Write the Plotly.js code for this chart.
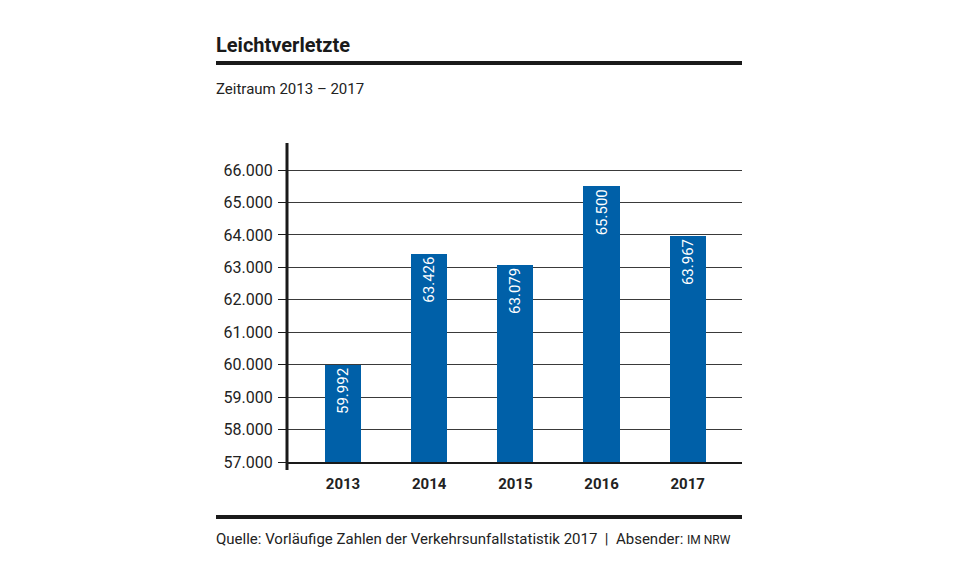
<!DOCTYPE html>
<html>
<head>
<meta charset="utf-8">
<script src="https://cdn.plot.ly/plotly-3.0.1.min.js"></script>
<style>html,body{margin:0;padding:0;background:#fff;}#chart{width:961px;height:581px;}</style>
</head>
<body>
<div id="chart"></div>
<script>
const years = ['2013', '2014', '2015', '2016', '2017'];
const injured = [59992, 63426, 63079, 65500, 63967];
const yTicks = [57000, 58000, 59000, 60000, 61000, 62000, 63000, 64000, 65000, 66000];
const titleText = 'Leichtverletzte';
const subtitleText = 'Zeitraum 2013 – 2017';
const sourceText = 'Quelle: Vorläufige Zahlen der Verkehrsunfallstatistik 2017  |  Absender: ';
const senderText = 'IM NRW';

const FONT = 'Roboto, "Liberation Sans", sans-serif';
const plotH = 319, plotW = 455, L = 287, T = 143;
const px = x => (x - L) / plotW;
const py = y => (T + plotH - y) / plotH;

const trace = {
  type: 'bar',
  x: years,
  y: injured,
  width: 0.42,
  marker: {color: '#0060a8', line: {width: 0}},
  texttemplate: '%{y:,d}',
  textposition: 'inside',
  insidetextanchor: 'end',
  textangle: -90,
  textfont: {family: FONT, size: 15, color: '#ffffff'},
  cliponaxis: false,
  hoverinfo: 'skip'
};

const layout = {
  width: 961, height: 581,
  margin: {l: L, r: 961 - 742, t: T, b: 581 - (T + plotH), pad: 0},
  paper_bgcolor: '#ffffff', plot_bgcolor: '#ffffff',
  separators: ',.',
  showlegend: false,
  font: {family: FONT, color: '#222', size: 14},
  bargap: 0,
  xaxis: {
    type: 'category',
    range: [-0.65, 4.63],
    showgrid: false,
    zeroline: false,
    showline: true, linecolor: '#1a1a1a', linewidth: 2,
    ticks: '',
    tickfont: {family: FONT, size: 15, color: '#222', weight: 'bold'},
    ticklabelstandoff: 7,
    fixedrange: true
  },
  yaxis: {
    range: [57000, 57000 + plotH / 32.44 * 1000],
    tickvals: yTicks,
    tickformat: ',d',
    showgrid: true, gridcolor: '#3a3a3a', gridwidth: 1,
    zeroline: false,
    showline: false,
    ticks: 'outside', ticklen: 8, tickcolor: '#1a1a1a', tickwidth: 1,
    tickfont: {family: FONT, size: 16, color: '#222'},
    ticklabelstandoff: 2,
    fixedrange: true
  },
  shapes: [
    {type: 'line', xref: 'paper', yref: 'paper', x0: 0, x1: 0, y0: py(470), y1: 1,
     line: {color: '#1a1a1a', width: 3}},
    {type: 'line', xref: 'paper', yref: 'paper', x0: px(216), x1: px(742), y0: py(63), y1: py(63),
     line: {color: '#1a1a1a', width: 4}},
    {type: 'line', xref: 'paper', yref: 'paper', x0: px(216), x1: px(742), y0: py(517), y1: py(517),
     line: {color: '#1a1a1a', width: 4}}
  ],
  annotations: [
    {text: '<b>' + titleText + '</b>', xref: 'paper', yref: 'paper', x: px(214), y: py(45),
     xanchor: 'left', yanchor: 'middle', showarrow: false,
     font: {family: FONT, size: 20, color: '#1a1a1a'}},
    {text: subtitleText, xref: 'paper', yref: 'paper', x: px(214), y: py(89),
     xanchor: 'left', yanchor: 'middle', showarrow: false,
     font: {family: FONT, size: 15, color: '#222'}},
    {text: sourceText + '<span style="font-size:12px">' + senderText + '</span>', xref: 'paper', yref: 'paper', x: px(214), y: py(539),
     xanchor: 'left', yanchor: 'middle', showarrow: false,
     font: {family: FONT, size: 15, color: '#222'}}
  ]
};

Plotly.newPlot('chart', [trace], layout, {displayModeBar: false, staticPlot: true});
</script>
</body>
</html>
